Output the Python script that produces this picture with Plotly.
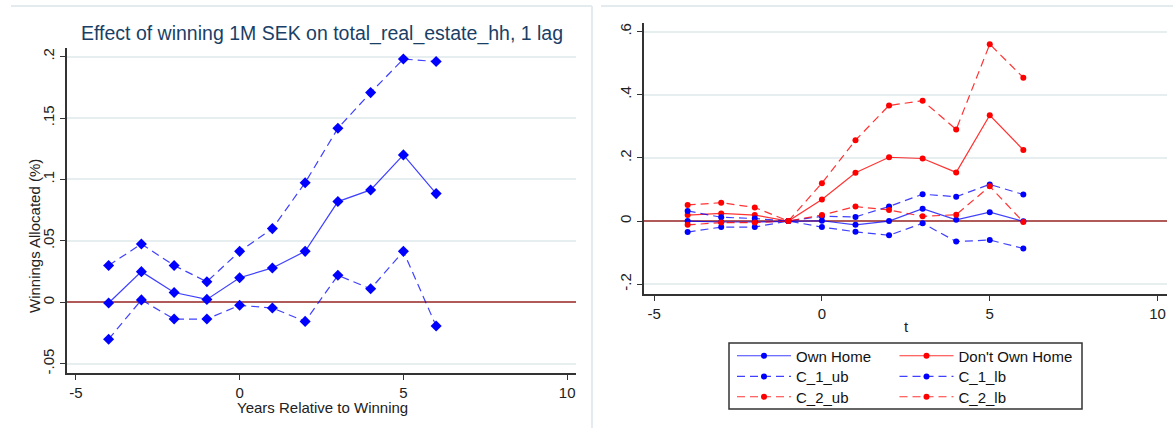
import plotly.graph_objects as go

W, H = 1173, 428

# ---- data -------------------------------------------------------------
years = [-4, -3, -2, -1, 0, 1, 2, 3, 4, 5, 6]

# Left panel: effect of winning on total_real_estate_hh with 95% bounds
effect = [-0.0005, 0.025, 0.008, 0.0024, 0.020, 0.028, 0.0415, 0.082, 0.0915, 0.120, 0.0885]
effect_ub = [0.030, 0.0475, 0.030, 0.0168, 0.0415, 0.060, 0.0974, 0.1417, 0.1707, 0.198, 0.196]
effect_lb = [-0.030, 0.002, -0.0136, -0.0136, -0.0024, -0.0046, -0.0155, 0.022, 0.011, 0.0415, -0.0193]

# Right panel: by home ownership
own_home = [0.0, -0.003, -0.003, 0.0, 0.001, -0.012, 0.0, 0.039, 0.004, 0.028, -0.001]
c1_ub = [0.032, 0.012, 0.008, 0.0, 0.015, 0.013, 0.046, 0.085, 0.077, 0.116, 0.084]
c1_lb = [-0.035, -0.019, -0.019, 0.0, -0.019, -0.034, -0.045, -0.007, -0.065, -0.060, -0.087]
dont_own = [0.019, 0.024, 0.019, 0.0, 0.068, 0.153, 0.202, 0.198, 0.154, 0.335, 0.225]
c2_ub = [0.051, 0.058, 0.043, 0.0, 0.120, 0.256, 0.366, 0.381, 0.290, 0.560, 0.454]
c2_lb = [-0.012, -0.005, -0.005, 0.0, 0.019, 0.046, 0.035, 0.015, 0.020, 0.110, -0.003]

x_ticks = [-5, 0, 5, 10]
x_ticktext = ["-5", "0", "5", "10"]
left_yticks = [-0.05, 0, 0.05, 0.1, 0.15, 0.2]
left_yticktext = ["-.05", "0", ".05", ".1", ".15", ".2"]
right_yticks = [-0.2, 0, 0.2, 0.4, 0.6]
right_yticktext = ["-.2", "0", ".2", ".4", ".6"]

# ---- styling ----------------------------------------------------------
FONT = "Liberation Sans, Arial, sans-serif"
BLUE = "#0000ff"
RED = "#ff0000"
BLUE_LINE = "rgba(0,0,255,0.75)"
RED_LINE = "rgba(255,0,0,0.8)"
GRID = "#e6eef0"
ZERO = "#b05a5a"
AXIS = "#333333"
DASH = "8px,5px"
TXT = 15


def px_x(p):
    return p / W


def px_y(p):
    return 1 - p / H


fig = go.Figure()

# left panel traces
for vals, dash in [(effect, "solid"), (effect_ub, DASH), (effect_lb, DASH)]:
    fig.add_trace(go.Scatter(
        x=years, y=vals, mode="lines+markers", xaxis="x", yaxis="y",
        line=dict(color=BLUE_LINE, width=1.2, dash=dash),
        marker=dict(symbol="diamond", size=8.5, color=BLUE),
        showlegend=False, hoverinfo="skip"))

# right panel traces, one legend per entry
right_series = [
    ("Own Home", own_home, BLUE, BLUE_LINE, "solid", "legend"),
    ("Don't Own Home", dont_own, RED, RED_LINE, "solid", "legend2"),
    ("C_1_ub", c1_ub, BLUE, BLUE_LINE, DASH, "legend3"),
    ("C_1_lb", c1_lb, BLUE, BLUE_LINE, DASH, "legend4"),
    ("C_2_ub", c2_ub, RED, RED_LINE, DASH, "legend5"),
    ("C_2_lb", c2_lb, RED, RED_LINE, DASH, "legend6"),
]
for name, vals, mcol, lcol, dash, leg in right_series:
    fig.add_trace(go.Scatter(
        x=years, y=vals, mode="lines+markers", name=name,
        xaxis="x2", yaxis="y2", legend=leg,
        line=dict(color=lcol, width=1.2, dash=dash),
        marker=dict(symbol="circle", size=6, color=mcol),
        hoverinfo="skip"))

axis_common = dict(
    showline=True, linecolor=AXIS, linewidth=1.5, mirror=False,
    ticks="outside", ticklen=5, tickcolor=AXIS, tickwidth=1.2,
    tickfont=dict(family=FONT, size=TXT, color="#222222"),
)

xcommon = dict(axis_common, tickmode="array", tickvals=x_ticks, ticktext=x_ticktext,
               showgrid=False, zeroline=False, tickangle=0)

fig.update_layout(
    width=W, height=H,
    margin=dict(l=0, r=0, t=0, b=0),
    paper_bgcolor="white", plot_bgcolor="white",
    font=dict(family=FONT, size=TXT, color="#222222"),
    xaxis=dict(xcommon, domain=[px_x(66.7), px_x(576)], range=[-5.28, 10.27], anchor="y"),
    yaxis=dict(axis_common, domain=[px_y(373), px_y(48)], range=[-0.0575, 0.207],
               tickmode="array", tickvals=left_yticks, ticktext=left_yticktext,
               tickangle=-90, showgrid=True, gridcolor=GRID, gridwidth=1.5,
               zeroline=True, zerolinecolor=ZERO, zerolinewidth=1.8, anchor="x"),
    xaxis2=dict(xcommon, domain=[px_x(644), px_x(1167)], range=[-5.3, 10.28], anchor="y2"),
    yaxis2=dict(axis_common, domain=[px_y(294), px_y(22.7)], range=[-0.231, 0.628],
                tickmode="array", tickvals=right_yticks, ticktext=right_yticktext,
                tickangle=-90, showgrid=True, gridcolor=GRID, gridwidth=1.5,
                zeroline=True, zerolinecolor=ZERO, zerolinewidth=1.8, anchor="x2"),
)

# legend entries laid out in a 3 x 2 grid
legend_pos = {
    "legend": (736, 356), "legend2": (898.5, 356),
    "legend3": (736, 376.7), "legend4": (898.5, 376.7),
    "legend5": (736, 397), "legend6": (898.5, 397),
}
for key, (lx, ly) in legend_pos.items():
    fig.update_layout({key: dict(
        x=px_x(lx - 4), y=px_y(ly), xanchor="left", yanchor="middle",
        orientation="h", bgcolor="rgba(0,0,0,0)", borderwidth=0,
        itemwidth=54, font=dict(family=FONT, size=TXT, color="#111111"),
        tracegroupgap=0, itemclick=False, itemdoubleclick=False)})

shapes = [
    # legend frame
    dict(type="rect", xref="paper", yref="paper",
         x0=px_x(729), x1=px_x(1082), y0=px_y(409), y1=px_y(343),
         line=dict(color="#333333", width=1.5), fillcolor="rgba(0,0,0,0)"),
    # faint panel frames
    dict(type="line", xref="paper", yref="paper", x0=px_x(11), x1=px_x(592),
         y0=px_y(6), y1=px_y(6), line=dict(color="#e3ebee", width=2)),
    dict(type="line", xref="paper", yref="paper", x0=px_x(592), x1=px_x(592),
         y0=px_y(6), y1=0, line=dict(color="#e3ebee", width=2)),
    dict(type="line", xref="paper", yref="paper", x0=px_x(601), x1=1,
         y0=px_y(6), y1=px_y(6), line=dict(color="#e3ebee", width=2)),
]
fig.update_layout(shapes=shapes)

annotations = [
    dict(text="Effect of winning 1M SEK on total_real_estate_hh, 1 lag",
         x=px_x(322), y=px_y(33), xref="paper", yref="paper",
         xanchor="center", yanchor="middle", showarrow=False,
         font=dict(family=FONT, size=19.5, color="#1a3f66")),
    dict(text="Winnings Allocated (%)", x=px_x(35), y=px_y(236),
         xref="paper", yref="paper", xanchor="center", yanchor="middle",
         textangle=-90, showarrow=False,
         font=dict(family=FONT, size=TXT, color="#222222")),
    dict(text="Years Relative to Winning", x=px_x(322), y=px_y(407),
         xref="paper", yref="paper", xanchor="center", yanchor="middle",
         showarrow=False, font=dict(family=FONT, size=TXT, color="#222222")),
    dict(text="t", x=px_x(906), y=px_y(326),
         xref="paper", yref="paper", xanchor="center", yanchor="middle",
         showarrow=False, font=dict(family=FONT, size=TXT, color="#222222")),
]
fig.update_layout(annotations=annotations)

fig.write_html("out.html")
